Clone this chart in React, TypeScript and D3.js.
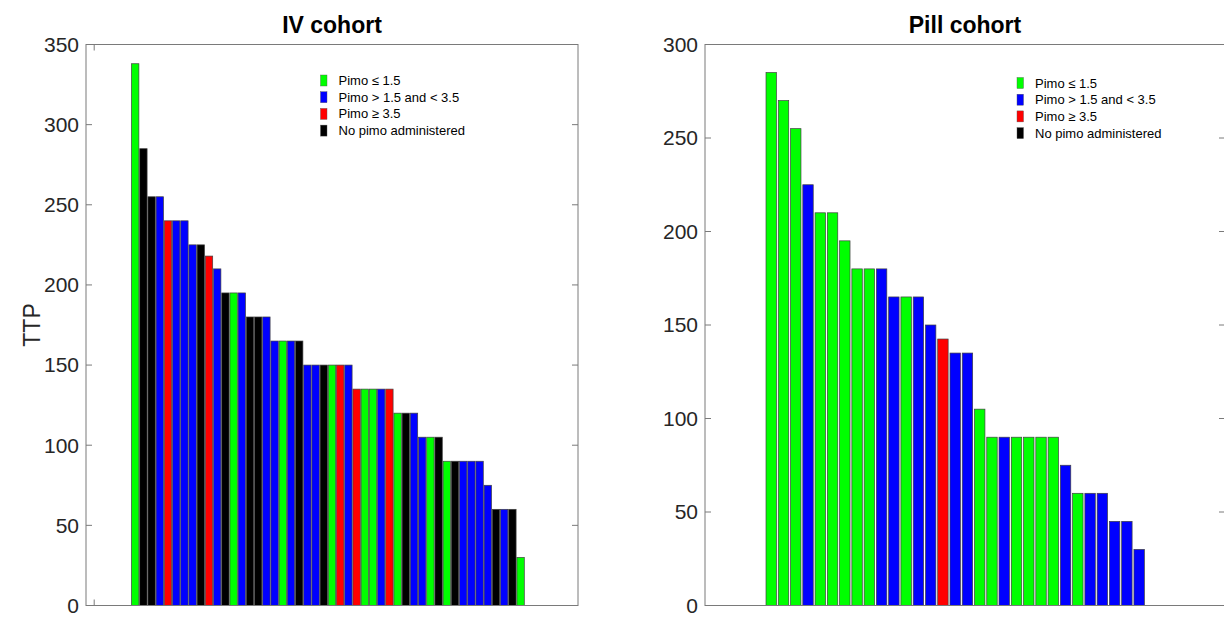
import React from 'react';
import * as d3 from 'd3';

// TTP per patient, sorted, with the pimo dose group of each bar
const ivValues = [338, 285, 255, 255, 240, 240, 240, 225, 225, 218, 210, 195, 195, 195, 180, 180, 180, 165, 165, 165, 165, 150, 150, 150, 150, 150, 150, 135, 135, 135, 135, 135, 120, 120, 120, 105, 105, 105, 90, 90, 90, 90, 90, 75, 60, 60, 60, 30];
const ivGroups = ['low', 'none', 'none', 'mid', 'high', 'mid', 'mid', 'mid', 'none', 'high', 'mid', 'none', 'low', 'mid', 'none', 'none', 'mid', 'mid', 'low', 'mid', 'none', 'mid', 'mid', 'none', 'low', 'high', 'mid', 'high', 'low', 'low', 'mid', 'high', 'low', 'none', 'mid', 'mid', 'low', 'none', 'low', 'none', 'mid', 'mid', 'mid', 'mid', 'none', 'mid', 'none', 'low'];

const pillValues = [285, 270, 255, 225, 210, 210, 195, 180, 180, 180, 165, 165, 165, 150, 142.5, 135, 135, 105, 90, 90, 90, 90, 90, 90, 75, 60, 60, 60, 45, 45, 30];
const pillGroups = ['low', 'low', 'low', 'mid', 'low', 'low', 'low', 'low', 'low', 'mid', 'mid', 'low', 'mid', 'mid', 'high', 'mid', 'mid', 'low', 'low', 'mid', 'low', 'low', 'low', 'low', 'mid', 'low', 'mid', 'mid', 'mid', 'mid', 'mid'];

const groupKeys = ['low', 'mid', 'high', 'none'];
const groupLabels = ['Pimo \u2264 1.5', 'Pimo > 1.5 and < 3.5', 'Pimo \u2265 3.5', 'No pimo administered'];
const groupColors = ['#00ff00', '#0000ff', '#ff0000', '#000000'];

const ivTicks = [0, 50, 100, 150, 200, 250, 300, 350];
const pillTicks = [0, 50, 100, 150, 200, 250, 300];

const FONT = '"Liberation Sans", Arial, Helvetica, sans-serif';
const AXIS = '#7a7a7a';
const TEXT = '#262626';

const color = d3.scaleOrdinal<string, string>().domain(groupKeys).range(groupColors);

type PanelProps = {
  title: string;
  values: number[];
  groups: string[];
  yTicks: number[];
  xDomain: [number, number];
  xTicks: number[];
  left: number;
  right: number;
  top: number;
  bottom: number;
  barWidth: number;
  legendX: number;
  legendY: number;
  yLabel?: string;
};

const Panel = (p: PanelProps) => {
  const x = d3.scaleLinear().domain(p.xDomain).range([p.left, p.right]);
  const y = d3.scaleLinear().domain([0, d3.max(p.yTicks) as number]).range([p.bottom, p.top]);
  const step = x(1) - x(0);
  const bw = step * p.barWidth;
  const tick = 6;

  return (
    <g>
      {/* bars */}
      {p.values.map((v, i) => (
        <rect
          key={i}
          x={x(i + 1) - bw / 2}
          y={y(v)}
          width={bw}
          height={y(0) - y(v)}
          fill={color(p.groups[i])}
          stroke="#404040"
          strokeWidth={0.7}
        />
      ))}

      {/* box */}
      <rect x={p.left} y={p.top} width={p.right - p.left} height={p.bottom - p.top} fill="none" stroke={AXIS} strokeWidth={1} />

      {/* y ticks, both sides, inward */}
      {p.yTicks.map(t => (
        <g key={t}>
          <line x1={p.left} x2={p.left + tick} y1={y(t)} y2={y(t)} stroke={AXIS} />
          <line x1={p.right} x2={p.right - tick} y1={y(t)} y2={y(t)} stroke={AXIS} />
          <text x={p.left - 7} y={y(t)} dy="0.35em" textAnchor="end" fontSize={21} fill={TEXT} fontFamily={FONT}>
            {t}
          </text>
        </g>
      ))}

      {/* x ticks (no labels) */}
      {p.xTicks.map(t => (
        <g key={t}>
          <line x1={x(t)} x2={x(t)} y1={p.bottom} y2={p.bottom - tick} stroke={AXIS} />
          <line x1={x(t)} x2={x(t)} y1={p.top} y2={p.top + tick} stroke={AXIS} />
        </g>
      ))}

      {p.yLabel && (
        <text
          transform={`translate(${p.left - 46},${(p.top + p.bottom) / 2}) rotate(-90)`}
          textAnchor="middle"
          fontSize={23}
          fill={TEXT}
          fontFamily={FONT}
        >
          {p.yLabel}
        </text>
      )}

      <text x={(p.left + p.right) / 2} y={p.top - 12} textAnchor="middle" fontSize={23} fontWeight="bold" fill="#000" fontFamily={FONT}>
        {p.title}
      </text>

      {/* legend */}
      {groupKeys.map((k, i) => {
        const cy = p.legendY + i * 16.7;
        return (
          <g key={k}>
            <rect x={p.legendX} y={cy - 5.5} width={6.5} height={11} fill={color(k)} stroke="#555" strokeWidth={0.4} />
            <text x={p.legendX + 18} y={cy} dy="0.35em" fontSize={13} fill="#000" fontFamily={FONT}>
              {groupLabels[i]}
            </text>
          </g>
        );
      })}
    </g>
  );
};

export default function App() {
  return (
    <svg
      width={1224}
      height={618}
      style={{ position: 'absolute', left: 0, top: 0, background: '#fff' }}
    >
      <Panel
        title="IV cohort"
        values={ivValues}
        groups={ivGroups}
        yTicks={ivTicks}
        xDomain={[-5, 55]}
        xTicks={[-4]}
        left={86}
        right={578}
        top={44.5}
        bottom={605.5}
        barWidth={0.9}
        legendX={320.5}
        legendY={80.5}
        yLabel="TTP"
      />
      <Panel
        title="Pill cohort"
        values={pillValues}
        groups={pillGroups}
        yTicks={pillTicks}
        xDomain={[-4.4, 38]}
        xTicks={[]}
        left={705}
        right={1225}
        top={44.5}
        bottom={605.5}
        barWidth={0.85}
        legendX={1017}
        legendY={83}
      />
    </svg>
  );
}
